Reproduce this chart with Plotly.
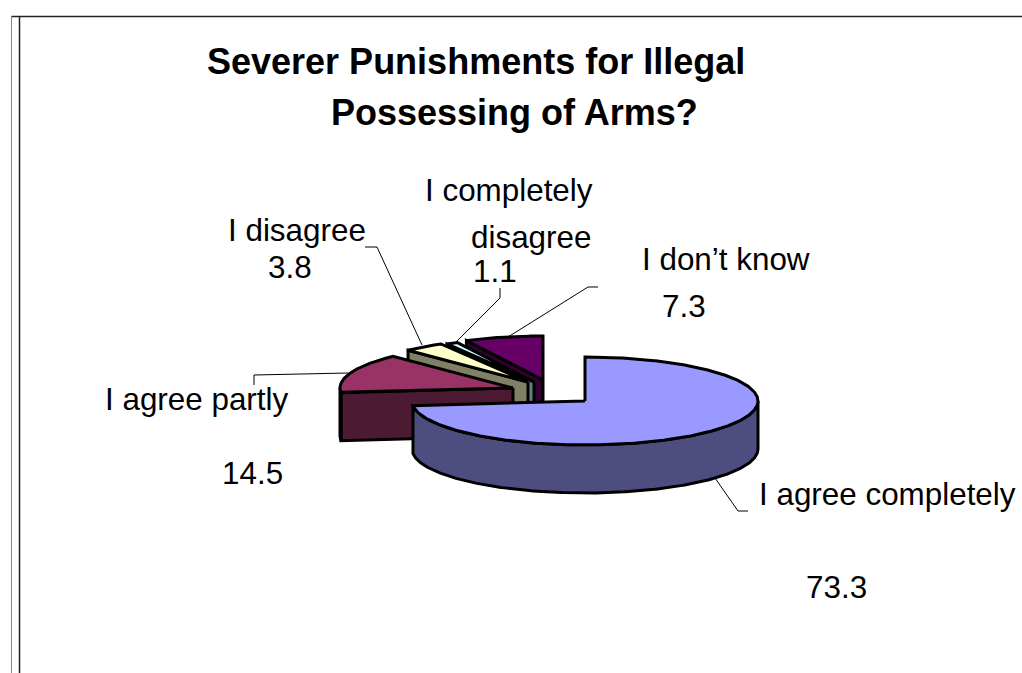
import numpy as np
import plotly.graph_objects as go

categories = ["I agree completely", "I agree partly", "I disagree", "I completely disagree", "I don’t know"]
values = [73.3, 14.5, 3.8, 1.1, 7.3]
top_colors = ["#9999FF", "#993366", "#FFFFCC", "#CCFFFF", "#660066"]
side_colors = ["#4D4D80", "#4D1A33", "#808066", "#668080", "#330033"]

# pie look, in page pixels
RX, RY, DEPTH = 173, 44, 48
CENTERS = [(585, 401), (513, 388), (528, 382), (534, 382), (543, 380)]
FONT = "Liberation Sans, Arial, sans-serif"


def arc(cx, cy, a0, a1):
    # clockwise from 12 o'clock, degrees
    t = np.radians(np.linspace(a0, a1, max(int(abs(a1 - a0) * 2), 2)))
    return cx + RX * np.sin(t), cy - RY * np.cos(t)


def poly(fig, x, y, color):
    fig.add_trace(go.Scatter(x=list(x), y=list(y), mode="lines", fill="toself", fillcolor=color,
                             line=dict(color="black", width=3), hoverinfo="skip", showlegend=False))


fig = go.Figure()

# work out the angles from the values
total = sum(values)
starts = np.cumsum([0] + values[:-1]) / total * 360
ends = np.cumsum(values) / total * 360

# back slices first, big one last
for i in [4, 3, 2, 1, 0]:
    cx, cy = CENTERS[i]
    a0, a1 = starts[i], ends[i]
    if i > 0:
        # flat side along the start edge
        ex, ey = arc(cx, cy, a0, a0)
        poly(fig, [cx, ex[0], ex[0], cx, cx], [cy, ey[0], ey[0] + DEPTH, cy + DEPTH, cy], side_colors[i])
    lo, hi = max(a0, 90), min(a1, 270)
    if lo < hi:
        # round outer side
        ax, ay = arc(cx, cy, lo, hi)
        poly(fig, np.r_[ax, ax[::-1], ax[0]], np.r_[ay, ay[::-1] + DEPTH, ay[0]], side_colors[i])
    tx, ty = arc(cx, cy, a0, a1)
    poly(fig, np.r_[cx, tx, cx], np.r_[cy, ty, cy], top_colors[i])

# leader lines
leaders = [
    ([715, 738, 748], [478, 511, 511]),
    ([365, 377, 422], [247, 247, 345]),
    ([500, 500, 455], [288, 298, 343]),
    ([598, 588, 508], [287, 287, 337]),
    ([254, 254, 348], [385, 375, 373]),
]
for lx, ly in leaders:
    fig.add_trace(go.Scatter(x=lx, y=ly, mode="lines", line=dict(color="black", width=1),
                             hoverinfo="skip", showlegend=False))

# frame of the slide
for fx, fy, c, w in [([11.5, 11.5], [16.5, 673], "#8a8a8a", 1), ([19.5, 19.5], [16.5, 673], "#222222", 1.5),
                     ([11.5, 1022], [16.5, 16.5], "#222222", 1.5)]:
    fig.add_trace(go.Scatter(x=fx, y=fy, mode="lines", line=dict(color=c, width=w),
                             hoverinfo="skip", showlegend=False))

texts = [
    ("Severer Punishments for Illegal", 207, 61, 36, True),
    ("Possessing of Arms?", 331, 112, 36, True),
    ("I completely", 425, 190, 31.4, False),
    ("disagree", 471, 237, 31.4, False),
    ("1.1", 473, 271, 31.4, False),
    ("I disagree", 228, 230, 31.4, False),
    ("3.8", 268, 267, 31.4, False),
    ("I don’t know", 642, 259, 31.4, False),
    ("7.3", 662, 306, 31.4, False),
    ("I agree partly", 105, 399, 31.4, False),
    ("14.5", 222, 473, 31.4, False),
    ("I agree completely", 759, 494, 31.4, False),
    ("73.3", 806, 587, 31.4, False),
]
for s, x, y, size, bold in texts:
    fig.add_annotation(x=x, y=y, text=f"<b>{s}</b>" if bold else s, showarrow=False,
                       xanchor="left", yanchor="middle", xshift=-2,
                       font=dict(family=FONT, size=size, color="black"))

fig.update_layout(
    width=1022, height=673, margin=dict(l=0, r=0, t=0, b=0),
    paper_bgcolor="white", plot_bgcolor="white", showlegend=False,
    xaxis=dict(range=[0, 1022], visible=False, fixedrange=True),
    yaxis=dict(range=[673, 0], visible=False, fixedrange=True),
)
fig.write_html("out.html", config=dict(displayModeBar=False),
               post_script="document.body.style.margin='0';document.documentElement.style.overflow='hidden';")
